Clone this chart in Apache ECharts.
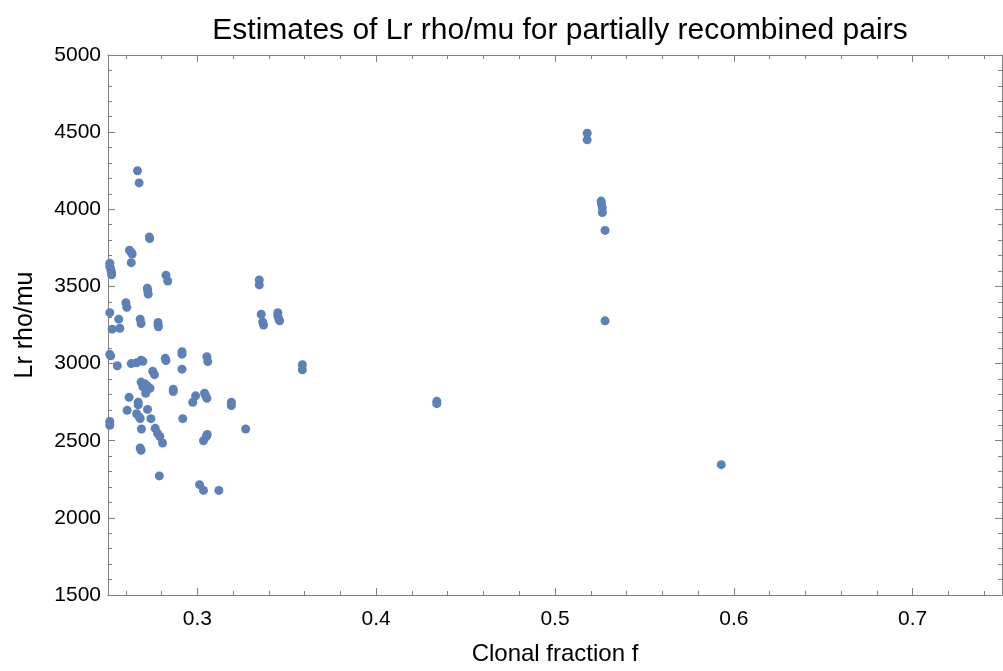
<!DOCTYPE html>
<html>
<head>
<meta charset="utf-8">
<script src="https://cdn.jsdelivr.net/npm/echarts@6/dist/echarts.min.js"></script>
<style>
html,body{margin:0;padding:0;background:#fff;}
#chart{width:1003px;height:671px;}
</style>
</head>
<body>
<div id="chart"></div>
<script>
// Clonal fraction f
const xVals = [
  0.251,0.251,0.2515,0.252,0.252,
  0.251,
  0.251,0.2515,
  0.251,0.251,
  0.2524,0.2566,0.256,
  0.2552,
  0.26,0.2605,
  0.262,0.263,0.2635,
  0.263,
  0.2665,0.2674,
  0.2731,0.2733,
  0.2824,0.2834,
  0.272,0.2722,0.2725,
  0.3346,0.3346,
  0.268,0.2685,
  0.278,0.278,0.2782,
  0.3357,0.3365,0.337,
  0.345,0.345,0.3455,0.346,
  0.263,0.266,0.2695,0.2685,
  0.282,0.2824,
  0.2914,0.2914,
  0.2914,
  0.3053,0.3058,
  0.3587,0.3587,
  0.275,0.276,
  0.2685,0.2705,0.272,0.2735,0.2695,
  0.2711,
  0.2865,0.2865,
  0.2618,
  0.2669,0.2669,
  0.2721,0.2607,
  0.266,0.2675,0.268,
  0.274,
  0.2687,
  0.2918,
  0.2764,0.2777,0.279,0.2805,
  0.268,0.2685,
  0.2974,0.299,
  0.304,0.3045,0.3053,
  0.319,0.319,
  0.327,
  0.3034,0.305,0.3055,
  0.2787,
  0.3012,0.3034,
  0.312,
  0.4339,0.4339,
  0.518,0.518,
  0.5258,0.526,0.5265,0.5265,
  0.528,
  0.528,
  0.593
];
// Lr rho/mu
const yVals = [
  3650,3630,3610,3590,3575,
  3330,
  3060,3050,
  2625,2600,
  3223,3229,3288,
  2986,
  3394,3365,
  3735,3720,3710,
  3654,
  4250,4171,
  3820,3810,
  3573,3535,
  3489,3470,3450,
  3542,3510,
  3288,3260,
  3267,3250,3239,
  3320,3270,3250,
  3330,3310,3290,3277,
  3000,3005,3015,3022,
  3034,3020,
  3077,3061,
  2964,
  3045,3013,
  2992,2960,
  2950,2928,
  2880,2870,2855,2840,2850,
  2808,
  2834,2819,
  2781,
  2749,2732,
  2703,2697,
  2675,2654,2643,
  2643,
  2576,
  2643,
  2580,2548,2527,2485,
  2453,2438,
  2749,2791,
  2808,2795,2775,
  2749,2728,
  2576,
  2500,2527,2540,
  2272,
  2215,2178,
  2178,
  2755,2740,
  4493,4450,
  4053,4035,4010,3979,
  3863,
  3277,
  2345
];
const xMajorTicks = [0.3,0.4,0.5,0.6,0.7];
const xTickLabels = ['0.3','0.4','0.5','0.6','0.7'];
const xMinorTicks = [0.26,0.28,0.32,0.34,0.36,0.38,0.42,0.44,0.46,0.48,0.52,0.54,0.56,0.58,0.62,0.64,0.66,0.68,0.72,0.74];
const yTickLabels = ['1500','2000','2500','3000','3500','4000','4500','5000'];

const points = xVals.map((x,i)=>[x,yVals[i]]);
const frameColor = '#808080';
const font = '"Liberation Sans", Arial, sans-serif';

function xAxisCfg(pos, ticks, len, withLabels, withLine, extra) {
  return Object.assign({
    type:'value', min:0.25, max:0.75, position:pos,
    axisLine:{show:withLine, lineStyle:{color:frameColor, width:1}},
    axisTick:{show:true, inside:true, length:len, customValues:ticks, lineStyle:{color:frameColor, width:1}},
    axisLabel:{show:withLabels, customValues:ticks, color:'#000', fontSize:21, fontFamily:font, margin:14,
      formatter:(v)=>{const i=xMajorTicks.findIndex(t=>Math.abs(t-v)<1e-9); return i>=0?xTickLabels[i]:'';}},
    splitLine:{show:false}
  }, extra||{});
}
function yAxisCfg(pos, withLabels, extra) {
  return Object.assign({
    type:'value', min:1500, max:5000, interval:500, position:pos,
    axisLine:{show:true, lineStyle:{color:frameColor, width:1}},
    axisTick:{show:true, inside:true, length:7, lineStyle:{color:frameColor, width:1}},
    minorTick:{show:true, splitNumber:5, length:4, lineStyle:{color:frameColor, width:1}},
    axisLabel:{show:withLabels, color:'#000', fontSize:21, fontFamily:font, margin:7,
      formatter:(v)=>{const i=yTickLabels.indexOf(String(v)); return i>=0?yTickLabels[i]:'';}},
    splitLine:{show:false}
  }, extra||{});
}

const chart = echarts.init(document.getElementById('chart'), null, {renderer:'canvas'});
chart.setOption({
  animation:false,
  backgroundColor:'#fff',
  title:{
    text:'Estimates of Lr rho/mu for partially recombined pairs',
    left:555, top:11, textAlign:'center',
    textStyle:{fontFamily:font, fontSize:30, fontWeight:'normal', color:'#000'}
  },
  grid:{left:108, right:1, top:55, bottom:64, containLabel:false},
  xAxis:[
    xAxisCfg('bottom', xMajorTicks, 7, true, true, {
      name:'Clonal fraction f', nameLocation:'middle', nameGap:47,
      nameTextStyle:{fontFamily:font, fontSize:24, color:'#000'}
    }),
    xAxisCfg('bottom', xMinorTicks, 4, false, false),
    xAxisCfg('top', xMajorTicks, 7, false, true),
    xAxisCfg('top', xMinorTicks, 4, false, false)
  ],
  yAxis:[
    yAxisCfg('left', true, {
      name:'Lr rho/mu', nameLocation:'middle', nameGap:70, nameRotate:90,
      nameTextStyle:{fontFamily:font, fontSize:25, color:'#000'}
    }),
    yAxisCfg('right', false)
  ],
  series:[{
    type:'scatter',
    xAxisIndex:0, yAxisIndex:0,
    data:points,
    symbol:'circle',
    symbolSize:9,
    itemStyle:{color:'#5E81B5', opacity:1},
    emphasis:{disabled:true}
  }]
});
</script>
</body>
</html>
